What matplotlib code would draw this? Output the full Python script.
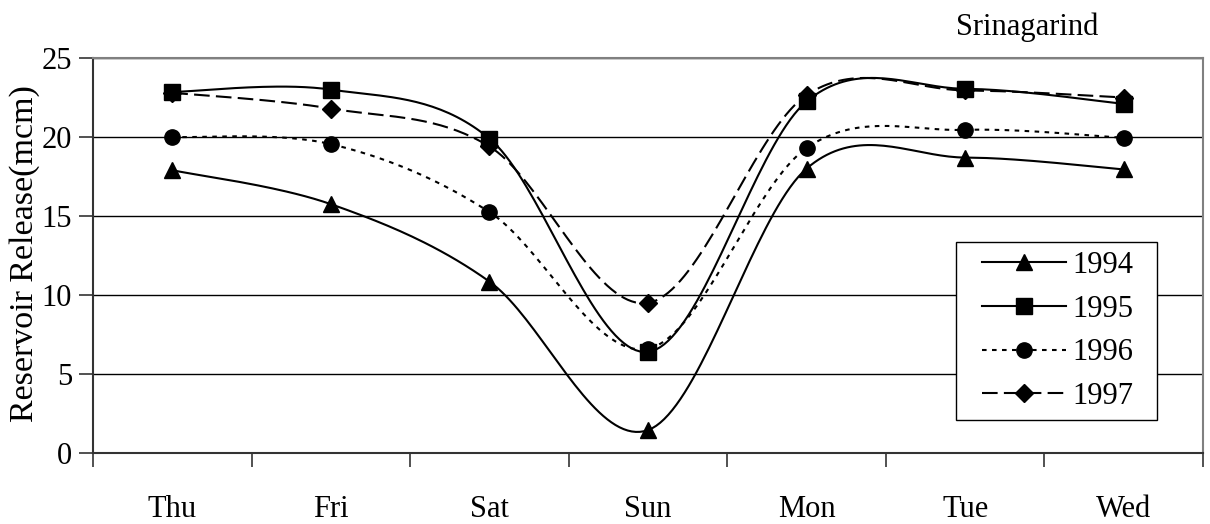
import numpy as np
import matplotlib
matplotlib.use("Agg")
import matplotlib.pyplot as plt
from matplotlib.lines import Line2D
from matplotlib.patches import Rectangle

days = ["Thu", "Fri", "Sat", "Sun", "Mon", "Tue", "Wed"]
y1994 = [17.9, 15.75, 10.85, 1.45, 18.0, 18.7, 17.95]
y1995 = [22.85, 23.0, 19.9, 6.4, 22.25, 23.05, 22.1]
y1996 = [20.0, 19.55, 15.25, 6.6, 19.3, 20.45, 19.95]
y1997 = [22.8, 21.8, 19.4, 9.5, 22.65, 22.95, 22.5]
years = ["1994", "1995", "1996", "1997"]
title = "Srinagarind"
ylabel = "Reservoir Release(mcm)"

plt.rcParams['font.family'] = ['Liberation Serif', 'DejaVu Serif']
FS = 22
W, H = 1210, 524


def smooth(xs, ys, n=40):
    pts = np.column_stack([xs, ys]).astype(float)
    m = len(pts)
    ox, oy = [], []
    for i in range(m - 1):
        p0 = pts[i - 1] if i > 0 else pts[i]
        p1 = pts[i]
        p2 = pts[i + 1]
        p3 = pts[i + 2] if i + 2 < m else pts[i + 1]
        c1 = p1 + (p2 - p0) / 6.0
        c2 = p2 - (p3 - p1) / 6.0
        t = np.linspace(0, 1, n)[:, None]
        b = ((1 - t) ** 3) * p1 + 3 * ((1 - t) ** 2) * t * c1 + 3 * (1 - t) * t ** 2 * c2 + t ** 3 * p2
        ox.extend(b[:, 0]); oy.extend(b[:, 1])
    return np.array(ox), np.array(oy)


fig = plt.figure(figsize=(W / 100, H / 100), dpi=100)
ax = fig.add_axes([93 / W, 1 - 453 / H, (1203 - 93) / W, (453 - 58) / H])

x = np.arange(len(days))
styles = [
    (y1994, '^', '-', None, 12),
    (y1995, 's', '-', None, 11.5),
    (y1996, 'o', '--', (2.2, 2.6), 11),
    (y1997, 'D', '--', (7.5, 3.0), 9.5),
]
handles = []
for (ys, mk, ls, dashes, ms), lab in zip(styles, years):
    sx, sy = smooth(x, ys)
    line, = ax.plot(sx, sy, ls, color='black', lw=1.5, zorder=3)
    if dashes:
        line.set_dashes(dashes)
    ax.plot(x, ys, linestyle='none', marker=mk, ms=ms, color='black', zorder=4)
    h = Line2D([0], [0], color='black', lw=1.5, linestyle=ls, marker=mk, ms=ms)
    if dashes:
        h.set_dashes(dashes)
    handles.append(h)

ax.set_xlim(-0.5, len(days) - 0.5)
ax.set_ylim(0, 25)
ax.set_yticks([0, 5, 10, 15, 20, 25])
ax.yaxis.grid(True, color='black', lw=1.0)
ax.set_axisbelow(True)

ax.set_xticks(np.arange(-0.5, len(days), 1.0))
ax.set_xticklabels([])
ax.set_xticks(x, minor=True)
ax.set_xticklabels(days, minor=True, fontsize=FS)
ax.tick_params(axis='x', which='minor', length=0, pad=30)
ax.tick_params(axis='x', which='major', length=10, width=1.2, direction='out', color='#333333')
ax.tick_params(axis='y', length=10, width=1.2, direction='out', pad=5, labelsize=FS, color='#333333')

for s in ['top', 'right']:
    ax.spines[s].set_color('#808080')
    ax.spines[s].set_linewidth(1.5)
for s in ['left', 'bottom']:
    ax.spines[s].set_color('#333333')
    ax.spines[s].set_linewidth(1.5)

fig.text(25 / W, 1 - 253.5 / H, ylabel, rotation=90, ha='center', va='center', fontsize=24.5)
fig.text(1027 / W, 1 - 27 / H, title, ha='center', va='center', fontsize=FS)

# legend box
box = Rectangle((956 / W, 1 - 420 / H), (1157 - 956) / W, (420 - 242) / H, transform=fig.transFigure,
                facecolor='white', edgecolor='black', lw=1.0, zorder=4.8)
ax.add_artist(box)
box.set_clip_on(False)

px = FS * 100 / 72.0
leg = ax.legend(handles, years, loc='upper left', bbox_to_anchor=(982 / W, 1 - 251 / H),
                bbox_transform=fig.transFigure,
                fontsize=FS, frameon=False,
                handlelength=84 / px, handletextpad=6 / px, labelspacing=0.48, borderpad=0, borderaxespad=0)
leg.set_zorder(5)

fig.savefig("out.png", dpi=100, facecolor='white')
